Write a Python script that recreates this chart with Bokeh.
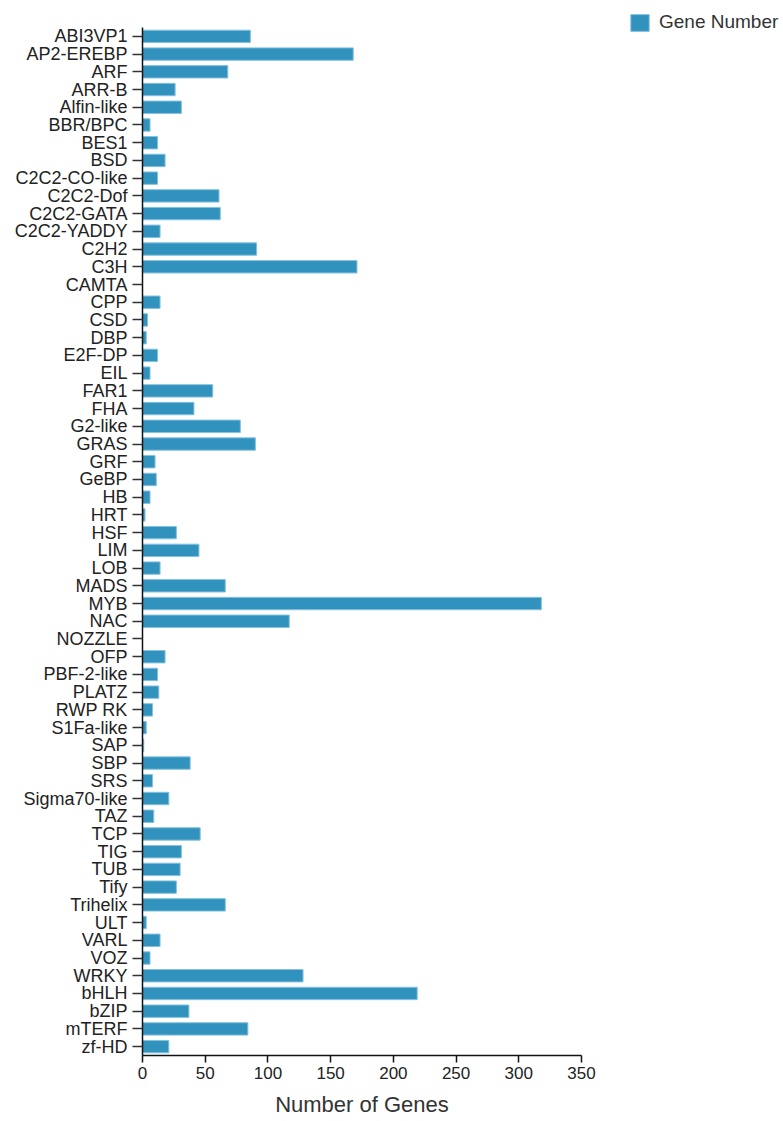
from bokeh.plotting import figure
from bokeh.models import FactorRange, Range1d, FixedTicker, ColumnDataSource, Legend, LegendItem
from bokeh.embed import file_html
from bokeh.resources import INLINE

categories = ["ABI3VP1", "AP2-EREBP", "ARF", "ARR-B", "Alfin-like", "BBR/BPC", "BES1", "BSD",
              "C2C2-CO-like", "C2C2-Dof", "C2C2-GATA", "C2C2-YADDY", "C2H2", "C3H", "CAMTA",
              "CPP", "CSD", "DBP", "E2F-DP", "EIL", "FAR1", "FHA", "G2-like", "GRAS", "GRF",
              "GeBP", "HB", "HRT", "HSF", "LIM", "LOB", "MADS", "MYB", "NAC", "NOZZLE", "OFP",
              "PBF-2-like", "PLATZ", "RWP RK", "S1Fa-like", "SAP", "SBP", "SRS", "Sigma70-like",
              "TAZ", "TCP", "TIG", "TUB", "Tify", "Trihelix", "ULT", "VARL", "VOZ", "WRKY",
              "bHLH", "bZIP", "mTERF", "zf-HD"]
gene_counts = [86, 168, 68, 26, 31, 6, 12, 18,
               12, 61, 62, 14, 91, 171, 0,
               14, 4, 3, 12, 6, 56, 41, 78, 90, 10,
               11, 6, 2, 27, 45, 14, 66, 318, 117, 0, 18,
               12, 13, 8, 3, 1, 38, 8, 21,
               9, 46, 31, 30, 27, 66, 3, 14, 6, 128,
               219, 37, 84, 21]
x_ticks = [0, 50, 100, 150, 200, 250, 300, 350]
series_name = "Gene Number"
x_title = "Number of Genes"

source = ColumnDataSource(dict(cat=categories, val=gene_counts))

p = figure(
    y_range=FactorRange(factors=list(reversed(categories))),
    x_range=Range1d(0, 350),
    frame_width=439, frame_height=1028,
    min_border_left=142, min_border_top=27, min_border_right=202, min_border_bottom=5,
    output_backend="svg", toolbar_location=None,
)
r = p.hbar(y="cat", right="val", left=0, height=0.7, source=source,
           fill_color="#3192be", line_color="#86c2de", line_width=1)

p.outline_line_color = None
p.xgrid.visible = False
p.ygrid.visible = False

font = "Liberation Sans"
p.yaxis.major_label_text_font = font
p.yaxis.major_label_text_font_size = "18px"
p.yaxis.major_label_text_color = "#222222"
p.yaxis.major_tick_out = 10
p.yaxis.major_tick_in = 0
p.yaxis.major_label_standoff = 5
p.yaxis.axis_line_width = 1.5
p.yaxis.axis_line_color = "#111111"
p.yaxis.major_tick_line_color = "#333333"
p.yaxis.major_tick_line_width = 1.5

p.xaxis.ticker = FixedTicker(ticks=x_ticks)
p.xaxis.minor_tick_line_color = None
p.xaxis.major_label_text_font = font
p.xaxis.major_label_text_font_size = "17px"
p.xaxis.major_label_text_color = "#222222"
p.xaxis.major_tick_out = 7
p.xaxis.major_tick_in = 0
p.xaxis.major_label_standoff = 4
p.xaxis.axis_line_width = 1.5
p.xaxis.axis_line_color = "#111111"
p.xaxis.major_tick_line_color = "#111111"
p.xaxis.major_tick_line_width = 1.5
p.xaxis.axis_label = x_title
p.xaxis.axis_label_text_font = font
p.xaxis.axis_label_text_font_size = "22px"
p.xaxis.axis_label_text_font_style = "normal"
p.xaxis.axis_label_text_color = "#333333"
p.xaxis.axis_label_standoff = 10

lg = Legend(items=[LegendItem(label=series_name, renderers=[r])],
            location=(47, 1022))
lg.border_line_color = None
lg.background_fill_alpha = 0
lg.padding = 0
lg.margin = 0
lg.glyph_width = 23
lg.glyph_height = 21
lg.label_standoff = 8
lg.label_text_font = font
lg.label_text_font_size = "19px"
lg.label_text_color = "#333333"
p.add_layout(lg, "right")

open("out.html", "w").write(file_html(p, INLINE))
